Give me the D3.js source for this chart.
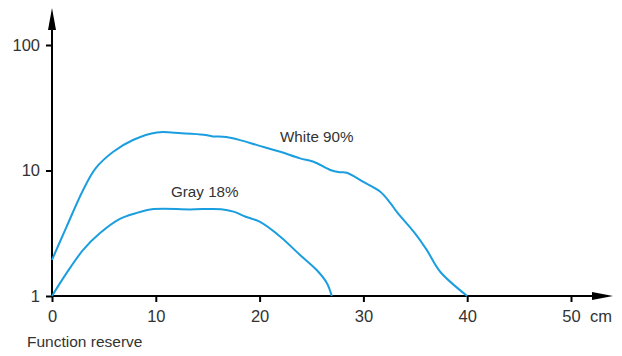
<!DOCTYPE html>
<html>
<head>
<meta charset="utf-8">
<script src="https://cdn.jsdelivr.net/npm/d3@7"></script>
<style>
  body { margin: 0; background: #fff; }
  text { font-family: "Liberation Sans", Arial, sans-serif; fill: #333; }
</style>
</head>
<body>
<div id="chart-area"></div>
<script>
var width = 622, height = 356;

// White 90% curve
var whiteX = [0, 1.4, 3.0, 4.2, 5.9, 7.8, 10.1, 12.5, 14.6, 15.5, 16.8, 18.3, 19.7, 22.0, 23.9, 25.2, 26.8, 27.7, 28.4, 30.0, 31.6, 32.6, 33.2, 35.1, 36.1, 37.4, 40.0];
var whiteV = [1.94, 3.56, 7.0, 10.4, 14.1, 17.5, 20.1, 19.8, 19.3, 18.7, 18.5, 17.3, 16.0, 14.1, 12.5, 11.75, 10.1, 9.7, 9.6, 8.1, 6.8, 5.5, 4.7, 3.06, 2.33, 1.56, 1.0];

// Gray 18% curve
var grayX = [0, 1.4, 3.0, 4.6, 6.5, 8.0, 9.8, 13.3, 16.3, 17.5, 18.6, 20.0, 22.0, 23.9, 25.5, 26.5, 26.95];
var grayV = [1, 1.52, 2.33, 3.16, 4.1, 4.55, 4.93, 4.9, 4.92, 4.7, 4.3, 3.91, 2.97, 2.12, 1.61, 1.26, 1.0];

var xTicks = [0, 10, 20, 30, 40, 50];
var yTicks = [1, 10, 100];

var x = d3.scaleLinear().domain([0, 50]).range([52, 571]);
var y = d3.scaleLog().domain([1, 100]).range([296, 45]);

var svg = d3.select("#chart-area").append("svg")
    .attr("width", width)
    .attr("height", height);

// axes lines with arrows
svg.append("line")
    .attr("x1", x(0)).attr("x2", 600)
    .attr("y1", y(1)).attr("y2", y(1))
    .attr("stroke", "#000").attr("stroke-width", 2);
svg.append("path")
    .attr("d", "M592,292 L613,296 L592,300 Z")
    .attr("fill", "#000");

svg.append("line")
    .attr("x1", x(0)).attr("x2", x(0))
    .attr("y1", y(1)).attr("y2", 22)
    .attr("stroke", "#000").attr("stroke-width", 2);
svg.append("path")
    .attr("d", "M48,30 L52,8 L56,30 Z")
    .attr("fill", "#000");

var xAxis = svg.append("g")
    .attr("transform", "translate(0," + y(1) + ")")
    .call(d3.axisBottom(x).tickValues(xTicks).tickSize(6).tickPadding(8).tickFormat(d3.format("d")));
var yAxis = svg.append("g")
    .attr("transform", "translate(" + x(0) + ",0)")
    .call(d3.axisLeft(y).tickValues(yTicks).tickSize(6).tickPadding(6).tickFormat(d3.format("d")));

[xAxis, yAxis].forEach(function(g) {
  g.select(".domain").remove();
  g.selectAll(".tick line").attr("stroke", "#000").attr("stroke-width", 2);
  g.selectAll(".tick text")
      .attr("font-size", "16.5px")
      .attr("fill", "#333");
});

svg.append("text")
    .attr("x", 590)
    .attr("y", 322)
    .style("font-size", "16.5px")
    .text("cm");

svg.append("text")
    .attr("x", 27)
    .attr("y", 347)
    .style("font-size", "15.5px")
    .text("Function reserve");

var line = d3.line()
    .x(function(d) { return x(d[0]); })
    .y(function(d) { return y(d[1]); })
    .curve(d3.curveCatmullRom.alpha(0.5));

var whiteData = d3.zip(whiteX, whiteV);
var grayData = d3.zip(grayX, grayV);

[whiteData, grayData].forEach(function(data) {
  svg.append("path")
      .datum(data)
      .attr("fill", "none")
      .attr("stroke", "#1b9ee0")
      .attr("stroke-width", 2)
      .attr("d", line);
});

svg.append("text")
    .attr("x", 280)
    .attr("y", 142)
    .style("font-size", "15.2px")
    .text("White 90%");

svg.append("text")
    .attr("x", 171)
    .attr("y", 197)
    .style("font-size", "15.2px")
    .text("Gray 18%");
</script>
</body>
</html>
